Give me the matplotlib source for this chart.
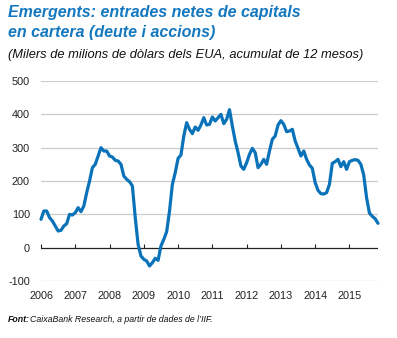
import numpy as np
import matplotlib.pyplot as plt

plt.rcParams['axes.unicode_minus'] = False

# Entrades netes de capitals en cartera, mensual (gen 2006 - nov 2015)
valors = [85, 110, 110, 90, 80, 65, 50, 52, 65, 72, 100, 98,
          105, 120, 108, 125, 165, 200, 240, 250, 275, 300, 290, 290,
          275, 272, 262, 260, 250, 215, 205, 198, 185, 90, 10, -25,
          -35, -40, -55, -45, -32, -38, 5, 25, 48, 110, 190, 225,
          268, 278, 335, 375, 355, 342, 362, 352, 368, 390, 368, 370,
          392, 380, 390, 400, 372, 385, 414, 365, 320, 285, 245, 235,
          255, 280, 298, 285, 240, 250, 265, 250, 290, 325, 335, 368,
          381, 370, 348, 350, 355, 320, 298, 275, 290, 265, 248, 238,
          195, 172, 162, 161, 165, 190, 253, 258, 265, 243, 258, 235,
          258, 262, 264, 262, 250, 218, 150, 104, 94, 87, 73]
anys = list(range(2006, 2016))
yticks = [-100, 0, 100, 200, 300, 400, 500]

x = 2006 + np.arange(len(valors)) / 12.0

blau = '#0a72b9'
fam = ['Liberation Sans Narrow', 'Liberation Sans', 'DejaVu Sans']

fig = plt.figure(figsize=(3.97, 3.38), dpi=100)
ax = fig.add_axes([41/397, 1-281/338, 337/397, 200/338])

for v in yticks:
    if v != 0:
        ax.axhline(v, color='#cccccc', lw=0.9, zorder=1)
ax.axhline(0, color='#222222', lw=0.9, zorder=2)

ax.plot(x, valors, color=blau, lw=2.3, zorder=3, clip_on=False,
        solid_joinstyle='round', solid_capstyle='round')

ax.set_xlim(2006, x[-1])
ax.set_ylim(-100, 500)
ax.set_yticks(yticks)
ax.set_xticks(anys)
ax.set_xticklabels([str(a) for a in anys])
for s in ax.spines.values():
    s.set_visible(False)
ax.tick_params(axis='both', length=0, labelsize=7.8, labelcolor='#222222',
               labelfontfamily=fam)
ax.tick_params(axis='y', pad=8)
ax.tick_params(axis='x', pad=7)

# marques dels anys sobre la linia de zero
sec = ax.secondary_xaxis(100/600)
sec.set_xticks(anys)
sec.tick_params(direction='in', length=3, width=0.8, color='#222222',
                labelbottom=False)
sec.spines['bottom'].set_visible(False)

fig.text(8/397, 1-13/338, 'Emergents: entrades netes de capitals',
         color='#1478c0', fontsize=11.5, fontweight='bold', fontstyle='italic',
         family=fam, va='center')
fig.text(8/397, 1-32/338, 'en cartera (deute i accions)',
         color='#1478c0', fontsize=11.5, fontweight='bold', fontstyle='italic',
         family=fam, va='center')
fig.text(8/397, 1-55/338,
         '(Milers de milions de dòlars dels EUA, acumulat de 12 mesos)',
         color='#111111', fontsize=9.3, fontstyle='italic', family=fam,
         va='center')
fig.text(8/397, 1-320/338, 'Font:', color='#111111', fontsize=6.3,
         fontweight='bold', fontstyle='italic', family=fam, va='center')
fig.text(30.5/397, 1-320/338, 'CaixaBank Research, a partir de dades de l’IIF.',
         color='#111111', fontsize=6.3, fontstyle='italic', family=fam,
         va='center')

fig.savefig('out.png', dpi=100)
